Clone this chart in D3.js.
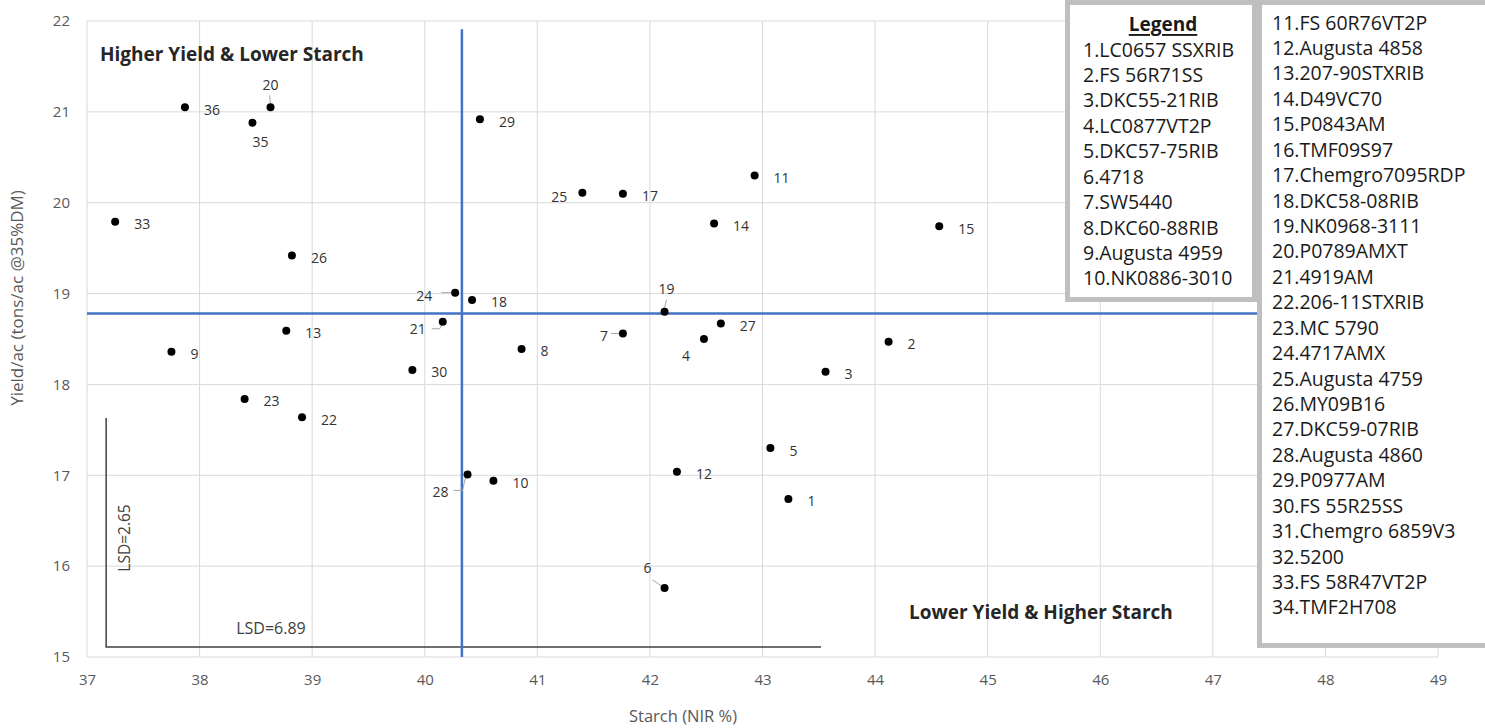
<!DOCTYPE html>
<html>
<head>
<meta charset="utf-8">
<script src="https://cdn.jsdelivr.net/npm/d3@7"></script>
<style>
  body { margin: 0; background: #fff; }
  svg { display: block; font-family: "Open Sans", sans-serif; }
</style>
</head>
<body>
<div id="chart"></div>
<script>
// hybrid entry numbers plotted, with starch (NIR %) and yield (tons/ac @35%DM)
const hybridIds = [1, 2, 3, 4, 5, 6, 7, 8, 9, 10, 11, 12, 13, 14, 15, 17, 18, 19, 20, 21, 22, 23, 24, 25, 26, 27, 28, 29, 30, 33, 35, 36];
const starch = [43.23, 44.12, 43.56, 42.48, 43.07, 42.13, 41.76, 40.86, 37.75, 40.61, 42.93, 42.24, 38.77, 42.57, 44.57, 41.76, 40.42, 42.13, 38.63, 40.16, 38.91, 38.40, 40.27, 41.40, 38.82, 42.63, 40.38, 40.49, 39.89, 37.25, 38.47, 37.87];
const yieldAc = [16.74, 18.47, 18.14, 18.50, 17.30, 15.76, 18.56, 18.39, 18.36, 16.94, 20.30, 17.04, 18.59, 19.77, 19.74, 20.10, 18.93, 18.80, 21.05, 18.69, 17.64, 17.84, 19.01, 20.11, 19.42, 18.67, 17.01, 20.92, 18.16, 19.79, 20.88, 21.05];

const legendLeft = ["1.LC0657 SSXRIB", "2.FS 56R71SS", "3.DKC55-21RIB", "4.LC0877VT2P", "5.DKC57-75RIB", "6.4718", "7.SW5440", "8.DKC60-88RIB", "9.Augusta 4959", "10.NK0886-3010"];
const legendRight = ["11.FS 60R76VT2P", "12.Augusta 4858", "13.207-90STXRIB", "14.D49VC70", "15.P0843AM", "16.TMF09S97", "17.Chemgro7095RDP", "18.DKC58-08RIB", "19.NK0968-3111", "20.P0789AMXT", "21.4919AM", "22.206-11STXRIB", "23.MC 5790", "24.4717AMX", "25.Augusta 4759", "26.MY09B16", "27.DKC59-07RIB", "28.Augusta 4860", "29.P0977AM", "30.FS 55R25SS", "31.Chemgro 6859V3", "32.5200", "33.FS 58R47VT2P", "34.TMF2H708"];

const xTicks = [37, 38, 39, 40, 41, 42, 43, 44, 45, 46, 47, 48, 49];
const yTicks = [15, 16, 17, 18, 19, 20, 21, 22];

// trial means (blue cross) and LSD bracket
const meanStarch = 40.33, meanYield = 18.78, meanLineTop = 21.91;
const lsdCorner = [37.17, 15.11], lsdTop = 17.63, lsdRight = 43.52;
const lsdYieldText = "LSD=2.65", lsdStarchText = "LSD=6.89";

// label layout: [dx, dy, anchor, leader points relative to dot]
const labelLayout = {
  20: [0, -23, "middle", [[-1, -12], [0, -4]]],
  35: [8, 19, "middle"],
  25: [-15, 4, "end"],
  24: [-23, 3, "end", [[-14, 0], [-4, 0]]],
  21: [-17, 7, "end", [[-11, 7], [-3, 7], [-1, 3]]],
  28: [-19, 17, "end", [[-14, 16], [-5, 16], [-2, 3]]],
  7: [-15, 2, "end", [[-12, 0], [-4, 0]]],
  4: [-18, 16, "middle"],
  19: [2, -23, "middle", [[2, -12], [0, -4]]],
  6: [-17, -20, "middle", [[-12, -8], [-3, -2]]]
};

const width = 1485, height = 728;
const x = d3.scaleLinear().domain([37, 49]).range([87, 1438]);
const y = d3.scaleLinear().domain([15, 22]).range([657, 21]);

const svg = d3.select("#chart").append("svg")
  .attr("width", width).attr("height", height);

// grid
svg.append("g").selectAll("line").data(xTicks).join("line")
  .attr("x1", d => x(d)).attr("x2", d => x(d))
  .attr("y1", y(22)).attr("y2", y(15))
  .attr("stroke", "#d9d9d9").attr("stroke-width", 1);
svg.append("g").selectAll("line").data(yTicks).join("line")
  .attr("x1", x(37)).attr("x2", x(49))
  .attr("y1", d => y(d)).attr("y2", d => y(d))
  .attr("stroke", "#d9d9d9").attr("stroke-width", 1);

// axes (labels only)
const xAxis = svg.append("g")
  .attr("transform", `translate(0,${y(15) + 17})`)
  .call(d3.axisBottom(x).tickValues(xTicks).tickFormat(d3.format("d")).tickSize(0).tickPadding(0));
xAxis.select(".domain").remove();
xAxis.selectAll("text").attr("font-size", 15).attr("fill", "#595959")
  .attr("font-family", "Open Sans, sans-serif");

const yAxis = svg.append("g")
  .attr("transform", `translate(${x(37) - 17},0)`)
  .call(d3.axisLeft(y).tickValues(yTicks).tickFormat(d3.format("d")).tickSize(0).tickPadding(0));
yAxis.select(".domain").remove();
yAxis.selectAll("text").attr("font-size", 15).attr("fill", "#595959")
  .attr("font-family", "Open Sans, sans-serif");

svg.append("text")
  .attr("x", 683).attr("y", 715)
  .attr("text-anchor", "middle").attr("dominant-baseline", "central")
  .attr("font-size", 16.5).attr("fill", "#595959")
  .text("Starch (NIR %)");
svg.append("text")
  .attr("transform", "translate(16,298) rotate(-90)")
  .attr("text-anchor", "middle").attr("dominant-baseline", "central")
  .attr("font-size", 17).attr("fill", "#595959")
  .text("Yield/ac (tons/ac @35%DM)");

// LSD bracket
svg.append("path")
  .attr("d", d3.line()([[x(lsdCorner[0]), y(lsdTop)], [x(lsdCorner[0]), y(lsdCorner[1])], [x(lsdRight), y(lsdCorner[1])]]))
  .attr("fill", "none").attr("stroke", "#404040").attr("stroke-width", 1.5);
svg.append("text")
  .attr("transform", `translate(${x(lsdCorner[0]) + 18},538) rotate(-90)`)
  .attr("text-anchor", "middle").attr("dominant-baseline", "central")
  .attr("font-size", 15.5).attr("fill", "#404040")
  .text(lsdYieldText);
svg.append("text")
  .attr("x", 271).attr("y", y(lsdCorner[1]) - 19)
  .attr("text-anchor", "middle").attr("dominant-baseline", "central")
  .attr("font-size", 16).attr("fill", "#404040")
  .text(lsdStarchText);

// mean lines
svg.append("line")
  .attr("x1", x(meanStarch)).attr("x2", x(meanStarch))
  .attr("y1", y(meanLineTop)).attr("y2", y(15))
  .attr("stroke", "#4472c4").attr("stroke-width", 2.5);
svg.append("line")
  .attr("x1", x(37)).attr("x2", x(49))
  .attr("y1", y(meanYield)).attr("y2", y(meanYield))
  .attr("stroke", "#4472c4").attr("stroke-width", 2.5);

// quadrant notes
svg.append("text").attr("x", 100).attr("y", 54)
  .attr("dominant-baseline", "central")
  .attr("font-size", 19).attr("font-weight", "bold").attr("fill", "#262626")
  .text("Higher Yield & Lower Starch");
svg.append("text").attr("x", 909).attr("y", 612)
  .attr("dominant-baseline", "central")
  .attr("font-size", 19).attr("font-weight", "bold").attr("fill", "#262626")
  .text("Lower Yield & Higher Starch");

// points
const points = hybridIds.map((id, i) => ({ id, sx: starch[i], yv: yieldAc[i] }));

const lbl = svg.append("g");
points.forEach(p => {
  const px = x(p.sx), py = y(p.yv);
  const lay = labelLayout[p.id] || [19, 2, "start"];
  if (lay[3]) {
    lbl.append("path")
      .attr("d", d3.line()(lay[3].map(q => [px + q[0], py + q[1]])))
      .attr("fill", "none").attr("stroke", "#a6a6a6").attr("stroke-width", 1);
  }
  lbl.append("text")
    .attr("x", px + lay[0]).attr("y", py + lay[1])
    .attr("text-anchor", lay[2]).attr("dominant-baseline", "central")
    .attr("font-size", 14).attr("fill", "#333")
    .text(p.id);
});

svg.append("g").selectAll("circle").data(points).join("circle")
  .attr("cx", d => x(d.sx)).attr("cy", d => y(d.yv))
  .attr("r", 4).attr("fill", "#000");

// legend boxes
const lg = svg.append("g");
lg.append("rect").attr("x", 1067.5).attr("y", 2.5).attr("width", 187).attr("height", 297)
  .attr("fill", "#fff").attr("stroke", "#bfbfbf").attr("stroke-width", 5);
lg.append("rect").attr("x", 1259.5).attr("y", 2.5).attr("width", 240).attr("height", 643)
  .attr("fill", "#fff").attr("stroke", "#bfbfbf").attr("stroke-width", 5);

lg.append("text").attr("x", 1163).attr("y", 24)
  .attr("text-anchor", "middle").attr("dominant-baseline", "central")
  .attr("font-size", 19).attr("font-weight", "bold").attr("fill", "#1a1a1a")
  .attr("text-decoration", "underline")
  .text("Legend");

lg.append("g").selectAll("text").data(legendLeft).join("text")
  .attr("x", 1083).attr("y", (d, i) => 49 + i * 25.43)
  .attr("dominant-baseline", "central")
  .attr("font-size", 19.5).attr("fill", "#1a1a1a")
  .text(d => d);

lg.append("g").selectAll("text").data(legendRight).join("text")
  .attr("x", 1272).attr("y", (d, i) => 22 + i * 25.43)
  .attr("dominant-baseline", "central")
  .attr("font-size", 19.5).attr("fill", "#1a1a1a")
  .text(d => d);
</script>
</body>
</html>
